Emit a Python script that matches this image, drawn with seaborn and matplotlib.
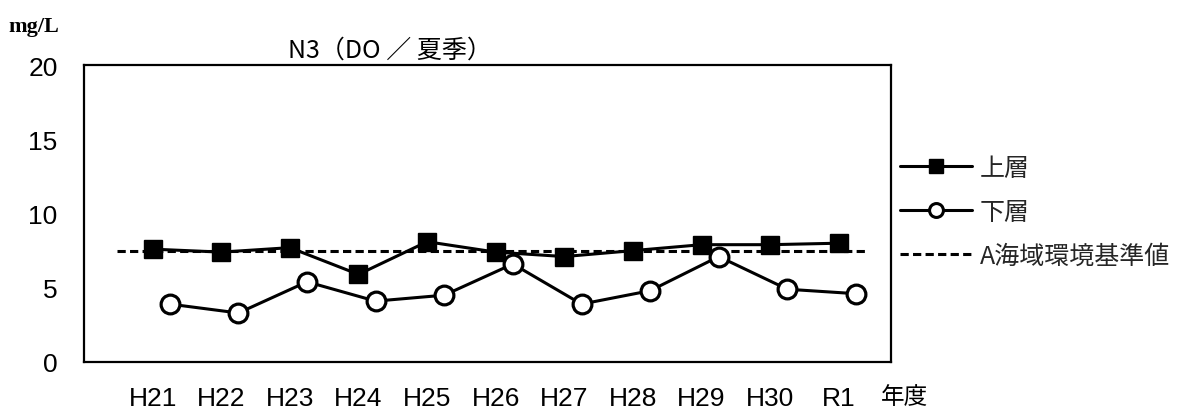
import numpy as np
import pandas as pd
import matplotlib
matplotlib.use("Agg")
import matplotlib.pyplot as plt
import seaborn as sns
from matplotlib.lines import Line2D

years = ["H21", "H22", "H23", "H24", "H25", "H26", "H27", "H28", "H29", "H30", "R1"]
upper = [7.6, 7.4, 7.7, 5.9, 8.1, 7.4, 7.1, 7.5, 7.9, 7.9, 8.0]
lower = [3.9, 3.3, 5.4, 4.1, 4.5, 6.6, 3.9, 4.8, 7.1, 4.9, 4.6]
standard = 7.5
yticks = [0, 5, 10, 15, 20]
title = "N3（DO ／ 夏季）"
unit = "mg/L"
xlabel = "年度"
legend_labels = ["上層", "下層", "A海域環境基準値"]

sns.set_style("white")
plt.rcParams["font.family"] = ["Noto Sans CJK JP", "DejaVu Sans"]

W, H = 1184, 414
fig = plt.figure(figsize=(W / 100, H / 100), dpi=100)
ax = fig.add_axes([84 / W, 51 / H, 807 / W, 297 / H])

idx = np.arange(len(years))
df_u = pd.DataFrame({"x": idx, "y": upper})
df_l = pd.DataFrame({"x": idx + 0.25, "y": lower})

dash = (0, (2.7, 1.4))
ax.axhline(standard, xmin=0.0405, xmax=0.9715, color="black", lw=2.2, ls=dash, zorder=3)
sns.lineplot(data=df_u, x="x", y="y", ax=ax, color="black", lw=2.2, marker="s",
             markersize=13.5, markeredgecolor="black", markerfacecolor="black",
             markeredgewidth=1, zorder=4)
sns.lineplot(data=df_l, x="x", y="y", ax=ax, color="black", lw=2.2, marker="o",
             markersize=13.5, markerfacecolor="white", markeredgecolor="black",
             markeredgewidth=2.3, zorder=5)

ax.set_xlim(-1, 10.76)
ax.set_ylim(0, 20)
ax.set_xticks(idx, years)
ax.set_yticks(yticks)
ax.set_xlabel("")
ax.set_ylabel("")
ax.tick_params(axis="x", direction="in", length=5.5, width=1.3, pad=17, labelsize=19, colors="black")
ax.tick_params(axis="y", direction="in", length=7, width=1.3, pad=19, labelsize=19, colors="black")
for lbl in ax.get_xticklabels() + ax.get_yticklabels():
    lbl.set_fontfamily(["Liberation Sans", "DejaVu Sans"])
for s in ax.spines.values():
    s.set_visible(True)
    s.set_color("black")
    s.set_linewidth(1.6)

fig.text(390 / W, 1 - 51 / H, title, ha="center", va="center", fontsize=18, color="black")
fig.text(34 / W, 1 - 27 / H, unit, ha="center", va="center", fontsize=16,
         family=["Liberation Serif", "DejaVu Serif"], weight="bold", color="black")
fig.text(905 / W, 1 - 398 / H, xlabel, ha="center", va="center", fontsize=17, color="black")

handles = [
    Line2D([], [], color="black", lw=2.2, marker="s", ms=10),
    Line2D([], [], color="black", lw=2.2, marker="o", ms=10, mfc="white", mew=2.2),
    Line2D([], [], color="black", lw=2.2, ls=dash),
]
ax.legend(handles, legend_labels, loc="center left", bbox_to_anchor=(1.011, 0.505),
          frameon=False, fontsize=18, handlelength=2.9, handletextpad=0.3,
          labelspacing=0.72, borderpad=0, borderaxespad=0)

fig.savefig("out.png", dpi=100)
